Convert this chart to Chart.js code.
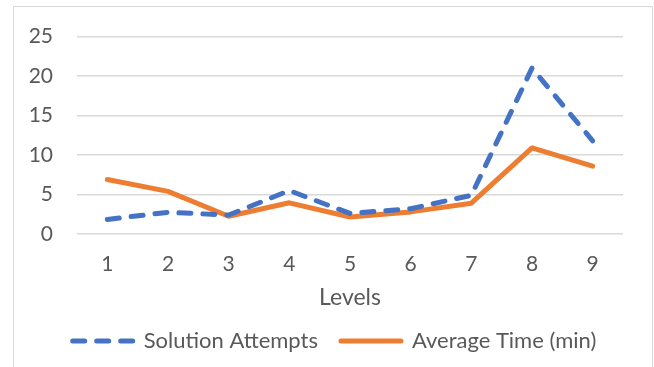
<!DOCTYPE html>
<html>
<head>
<meta charset="utf-8">
<script src="https://cdn.jsdelivr.net/npm/chart.js@4"></script>
<style>
  html, body { margin: 0; padding: 0; background: #fff; overflow: hidden; }
  #frame {
    position: absolute; left: 13px; top: 6px;
    width: 638px; height: 380px;
    border: 1px solid #d9d9d9;
  }
  #graphic1 { position: absolute; left: 14px; top: 0; }
</style>
</head>
<body>
<div id="frame"></div>
<canvas id="graphic1" width="638" height="362"></canvas>
<script>
// data
const levels = ['1', '2', '3', '4', '5', '6', '7', '8', '9'];
const solutionAttempts = [1.85, 2.75, 2.4, 5.5, 2.6, 3.2, 4.9, 21.0, 11.8];
const averageTime = [6.9, 5.4, 2.25, 3.95, 2.15, 2.8, 3.9, 10.9, 8.6];
const yTicks = [0, 5, 10, 15, 20, 25];

const canvas = document.querySelector('#graphic1');
const ctx = canvas.getContext('2d');

const textColor = '#595959';
const fontFamily = 'Lato, sans-serif';

// legend sits a bit right of the canvas centre in the original
const legendShift = {
  id: 'legendShift',
  afterLayout(chart) {
    chart.legend.left += 16;
    chart.legend.right += 16;
  }
};

const myChart = new Chart(ctx, {
  type: 'line',
  data: {
    labels: levels,
    datasets: [{
      label: 'Solution Attempts',
      data: solutionAttempts,
      borderColor: '#4472c4',
      backgroundColor: '#4472c4',
      borderWidth: 5,
      borderDash: [12, 12],
      borderCapStyle: 'round',
      borderJoinStyle: 'round',
      pointRadius: 0,
      tension: 0
    }, {
      label: 'Average Time (min)',
      data: averageTime,
      borderColor: '#ed7d31',
      backgroundColor: '#ed7d31',
      borderWidth: 5,
      borderCapStyle: 'round',
      borderJoinStyle: 'round',
      pointRadius: 0,
      tension: 0
    }]
  },
  plugins: [legendShift],
  options: {
    responsive: false,
    animation: false,
    layout: { padding: { left: 0, right: 29, top: 0, bottom: 0 } },
    plugins: {
      tooltip: { enabled: false },
      legend: {
        position: 'bottom',
        labels: {
          usePointStyle: true,
          pointStyle: 'line',
          pointStyleWidth: 60,
          padding: 23,
          color: textColor,
          font: { family: fontFamily, size: 22 },
          generateLabels: function (chart) {
            const items = Chart.defaults.plugins.legend.labels.generateLabels(chart);
            items.forEach(function (item) {
              const ds = chart.data.datasets[item.datasetIndex];
              item.lineDash = ds.borderDash || [];
              item.lineCap = 'round';
              item.lineWidth = 5;
              item.strokeStyle = ds.borderColor;
              item.fillStyle = ds.borderColor;
            });
            return items;
          }
        }
      }
    },
    scales: {
      x: {
        offset: true,
        afterFit: function (scale) { scale.height = 73; },
        grid: { display: false, drawTicks: false },
        border: { display: false },
        ticks: { color: textColor, padding: 18, font: { family: fontFamily, size: 21 } },
        title: {
          display: true,
          text: 'Levels',
          color: textColor,
          padding: { top: 0, bottom: -4 },
          font: { family: fontFamily, size: 23 }
        }
      },
      y: {
        min: yTicks[0],
        max: yTicks[yTicks.length - 1],
        afterFit: function (scale) { scale.width = 63; },
        afterBuildTicks: function (scale) { scale.ticks = yTicks.map(v => ({ value: v })); },
        grid: { color: '#d9d9d9', lineWidth: 1.5, drawTicks: false },
        border: { display: false },
        ticks: { color: textColor, padding: 24, font: { family: fontFamily, size: 21 } }
      }
    }
  }
});
</script>
</body>
</html>
